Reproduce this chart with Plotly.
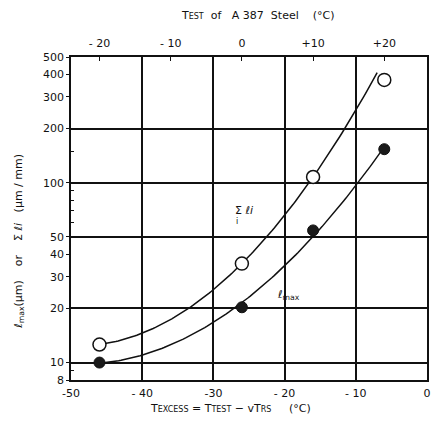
import numpy as np
import plotly.graph_objects as go

# ---- data ----
t_test = [-20, 0, 10, 20]            # test temperature of A 387 steel (deg C)
vtrs = 26                            # vTrs (deg C): T_excess = T_test - vTrs
sum_li = [12.6, 35.5, 107.6, 373]    # open circles, sum of li (um/mm)
l_max = [10.0, 20.3, 54.3, 153.6]    # filled circles, l_max (um)

x_ticks = [-50, -40, -30, -20, -10, 0]
x_ticktext = ["-50", "- 40", "-30", "- 20", "- 10", "0"]
top_ticks = [-20, -10, 0, 10, 20]
top_ticktext = ["- 20", "- 10", "0", "+10", "+20"]
y_ticks = [8, 10, 20, 30, 40, 50, 100, 200, 300, 400, 500]
y_grid = [10, 20, 50, 100, 200]
y_minor = [9, 60, 70, 80, 90, 150]

t_excess = np.array(t_test, dtype=float) - vtrs

# smooth hand-drawn style curves: quadratic fits in log space
c_up = np.polyfit(t_excess[:3], np.log10(sum_li[:3]), 2)
xs_up = np.linspace(t_excess[0], t_excess[-1] - 1, 120)
ys_up = 10 ** np.polyval(c_up, xs_up)
c_lo = np.polyfit(t_excess, np.log10(l_max), 2)
xs_lo = np.linspace(t_excess[0], t_excess[-1], 120)
ys_lo = 10 ** np.polyval(c_lo, xs_lo)

INK = "#111111"
FONT = "DejaVu Sans"

fig = go.Figure()
fig.add_trace(go.Scatter(x=xs_up, y=ys_up, mode="lines", line=dict(color=INK, width=1.5),
                         hoverinfo="skip", showlegend=False))
fig.add_trace(go.Scatter(x=xs_lo, y=ys_lo, mode="lines", line=dict(color=INK, width=1.5),
                         hoverinfo="skip", showlegend=False))
fig.add_trace(go.Scatter(x=t_excess, y=sum_li, mode="markers",
                         marker=dict(symbol="circle", size=13, color="white",
                                     line=dict(color=INK, width=1.5)),
                         showlegend=False))
fig.add_trace(go.Scatter(x=t_excess, y=l_max, mode="markers",
                         marker=dict(symbol="circle", size=11, color="#1a1a1a",
                                     line=dict(color=INK, width=1)),
                         showlegend=False))
# invisible traces to activate the top axis and the grid axis
fig.add_trace(go.Scatter(x=t_test, y=l_max, xaxis="x2", yaxis="y", mode="markers",
                         marker=dict(opacity=0), hoverinfo="skip", showlegend=False))
fig.add_trace(go.Scatter(x=t_excess, y=l_max, xaxis="x", yaxis="y2", mode="markers",
                         marker=dict(opacity=0), hoverinfo="skip", showlegend=False))

yr = [np.log10(8), np.log10(500)]
small = "<span style='font-size:8px'>{}</span>"
fig.update_layout(
    width=432, height=426,
    margin=dict(l=71, r=1, t=57, b=46),
    paper_bgcolor="white", plot_bgcolor="white",
    font=dict(family=FONT, color=INK, size=11),
    xaxis=dict(range=[-50, 0], tickvals=x_ticks, ticktext=x_ticktext,
               showgrid=True, gridcolor=INK, gridwidth=1.5,
               showline=True, linecolor=INK, linewidth=1.5, mirror=True,
               ticks="", zeroline=False, tickfont=dict(size=11), anchor="y",
               ticklabelstandoff=2, ticklabeloverflow="allow"),
    xaxis2=dict(range=[-50 + vtrs, 0 + vtrs], overlaying="x", side="top", anchor="y",
                tickvals=top_ticks, ticktext=top_ticktext, showgrid=False,
                ticks="inside", ticklen=4, tickcolor=INK, showline=False,
                zeroline=False, tickfont=dict(size=11), ticklabelstandoff=7,
                ticklabeloverflow="allow"),
    yaxis=dict(type="log", range=yr, tickvals=y_ticks, ticktext=[str(v) for v in y_ticks],
               showgrid=False, showline=True, linecolor=INK, linewidth=1.5, mirror=True,
               ticks="outside", ticklen=3, tickcolor=INK, zeroline=False,
               tickfont=dict(size=11),
               minor=dict(tickvals=y_minor, ticks="inside", ticklen=3, tickcolor=INK)),
    yaxis2=dict(type="log", range=yr, overlaying="y", side="left", anchor="x",
                tickvals=y_grid, showticklabels=False, showgrid=True,
                gridcolor=INK, gridwidth=1.5, ticks="", showline=False, zeroline=False),
    annotations=[
        dict(text="<i>ℓ</i><sub>max</sub>(μm)    or    Σ <i>ℓi</i>   (μm / mm)",
             xref="paper", yref="paper", x=-0.147, y=0.43, textangle=-90,
             xanchor="center", yanchor="middle", showarrow=False, font=dict(size=11)),
        dict(text="T" + small.format("EST") + "  of   A 387  Steel    (°C)",
             xref="paper", yref="paper", x=0.525, y=1.13, xanchor="center", yanchor="middle",
             showarrow=False, font=dict(size=11)),
        dict(text="T" + small.format("EXCESS") + " = T" + small.format("TEST")
                  + " − vT" + small.format("RS") + "     (°C)",
             xref="paper", yref="paper", x=0.447, y=-0.087, xanchor="center", yanchor="middle",
             showarrow=False, font=dict(size=11)),
        dict(text="Σ <i>ℓi</i>", xref="paper", yref="paper", x=0.485, y=0.525,
             xanchor="center", yanchor="middle", showarrow=False, font=dict(size=11)),
        dict(text="i", xref="paper", yref="paper", x=0.466, y=0.49,
             xanchor="center", yanchor="middle", showarrow=False, font=dict(size=8)),
        dict(text="<i>ℓ</i><sub>max</sub>", xref="paper", yref="paper", x=0.572, y=0.263,
             xanchor="left", yanchor="middle", showarrow=False, font=dict(size=11)),
    ],
)

fig.write_html("out.html")
